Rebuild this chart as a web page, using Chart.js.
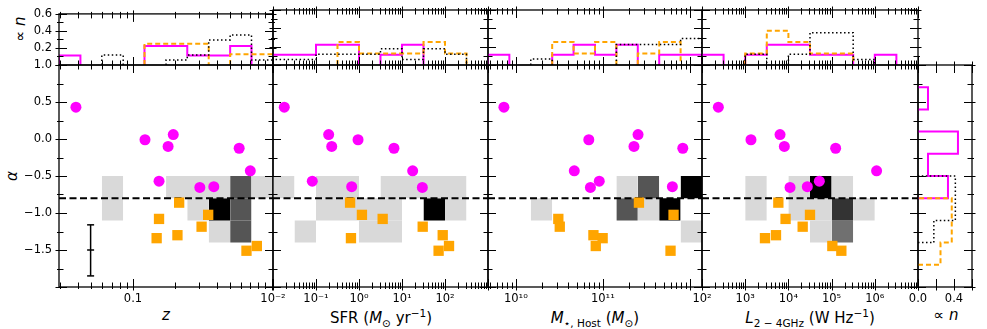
<!DOCTYPE html>
<html>
<head>
<meta charset="utf-8">
<title>spectral index vs host properties</title>
<script src="https://cdn.jsdelivr.net/npm/chart.js"></script>
<style>
  html,body{margin:0;padding:0;background:#fff;}
  #fig{position:relative;width:987px;height:329px;overflow:hidden;font-family:"DejaVu Sans",sans-serif;color:#000;}
  #fig canvas{position:absolute;left:0;top:0;}
  .lab{position:absolute;white-space:nowrap;font-size:15px;line-height:1;transform:translate(-50%,-50%);}
  .rot{transform:translate(-50%,-50%) rotate(-90deg);}
  sub,sup{font-size:70%;line-height:0;}
</style>
</head>
<body>
<div id="fig">
  <div class="lab rot" style="left:20px;top:29px">∝ <i>n</i></div>
  <div class="lab rot" style="left:12px;top:176px"><i>α</i></div>
  <div class="lab" style="left:166px;top:315px"><i>z</i></div>
  <div class="lab" style="left:381px;top:318px">SFR (<i>M</i><sub>⊙</sub> yr<sup>−1</sup>)</div>
  <div class="lab" style="left:595px;top:318px"><i>M</i><sub>⋆, Host</sub> (<i>M</i><sub>⊙</sub>)</div>
  <div class="lab" style="left:810px;top:318px"><i>L</i><sub>2 − 4GHz</sub> (W Hz<sup>−1</sup>)</div>
  <div class="lab" style="left:946px;top:315px">∝ <i>n</i></div>
</div>
<script>
"use strict";
// ---- bin edges (histograms + grey grid) ----
const alphaEdges=[-2.0,-1.7,-1.4,-1.1,-0.8,-0.5,-0.2,0.1,0.4,0.7,1.0];
const zEdges=[0.0293,0.0418,0.0596,0.085,0.121,0.173,0.246,0.351,0.501,0.714,1.02];
const sfrEdges=[0.01,0.0316,0.1,0.316,1,3.16,10,31.6,100,316,1000];
const massEdges=[4.79e9,8.43e9,1.486e10,2.618e10,4.613e10,8.128e10,1.432e11,2.523e11,4.446e11,7.834e11,1.38e12];
const lumEdges=[1e2,3.16e2,1e3,3.16e3,1e4,3.16e4,1e5,3.16e5,1e6,3.16e6,1e7];
const alphaCut=-0.8;

// ---- magenta sources (circles) ----
const magAlpha=[0.43,0.06,-0.10,-0.01,-0.125,-0.43,-0.57,-0.645,-0.655];
const magZ=[0.0388,0.195,0.179,0.122,0.582,0.70,0.154,0.382,0.303];
const magSFR=[0.0183,0.197,0.232,0.95,6.5,17.7,0.082,0.676,29.7];
const magMass=[7.3e9,2.54e11,2.28e11,6.9e10,8.3e11,4.7e10,9.1e10,6.3e11,7.2e10];
const magLum=[239,6.4e3,8.05e3,1.36e3,1.24e5,1.1e6,5.2e4,2.74e4,1.09e4];

// ---- orange sources (squares) ----
const orgAlpha=[-0.86,-1.025,-1.08,-1.185,-1.30,-1.34,-1.446,-1.51];
const orgZ=[0.215,0.348,0.154,0.312,0.209,0.148,0.78,0.657];
const orgSFR=[0.62,1.17,3.55,30.3,88.5,0.65,124,71];
const orgMass=[2.6e11,6.5e11,3.08e10,3.2e10,7.8e10,9.95e10,8.3e10,6.0e11];
const orgLum=[5.85e3,3.16e4,8.6e3,2.14e4,5.16e3,2.87e3,1.04e5,1.68e5];

// ---- grey grid levels, rows: [-0.8,-0.5], [-1.1,-0.8], [-1.4,-1.1] ----
const gridZ=[[0,0,1,0,0,1,1,1,3,1],[0,0,1,0,0,0,1,5,3,0],[0,0,0,0,0,0,0,1,3,0]];
const gridSFR=[[1,0,1,1,0,1,1,1,1,0],[0,0,1,1,1,1,0,5,1,0],[0,1,0,0,1,1,0,0,0,0]];
const gridMass=[[0,0,0,0,0,0,1,3,0,5],[0,0,1,0,0,0,3,1,5,0],[0,0,0,0,0,0,0,0,0,1]];
const gridLum=[[0,0,1,0,1,5,1,0,0,0],[0,0,1,0,1,1,4,1,0,0],[0,0,0,0,0,1,2,0,0,0]];

// ---- top histograms (fraction per bin) ----
const histMagZ=[0.111,0,0,0,0.222,0.222,0.111,0.111,0.222,0];
const histOrgZ=[0,0,0,0,0.25,0.25,0.25,0,0.125,0.125];
const histGreyZ=[0,0,0.118,0,0,0.059,0.118,0.294,0.353,0.059];
const histMagSFR=[0.111,0.111,0.222,0.222,0,0.111,0.222,0,0,0];
const histOrgSFR=[0,0,0,0.25,0.125,0.125,0.125,0.25,0.125,0];
const histGreySFR=[0.059,0.059,0.118,0.118,0.118,0.176,0.059,0.176,0.118,0];
const histMagMass=[0.111,0,0,0.111,0.222,0.111,0.222,0,0.111,0.111];
const histOrgMass=[0,0,0,0.25,0.125,0.25,0,0.125,0.25,0];
const histGreyMass=[0,0,0.065,0,0,0,0.225,0.225,0.225,0.29];
const histMagLum=[0.111,0,0.111,0.222,0.222,0.111,0.111,0,0.111,0];
const histOrgLum=[0,0,0.125,0.375,0.25,0.125,0.125,0,0,0];
const histGreyLum=[0,0,0.118,0,0.118,0.353,0.353,0.059,0,0];

// ---- right histogram over alpha bins (bottom to top) ----
const histMagAlpha=[0,0,0,0,0.333,0.111,0.444,0,0.111,0];
const histOrgAlpha=[0,0.25,0.375,0.375,0,0,0,0,0,0];
const histGreyAlpha=[0,0,0.176,0.415,0.415,0,0,0,0,0];

// ---- tick labels ----
const zTicks=[0.1], zTickLabels=['0.1'];
const sfrTicks=[0.01,0.1,1,10,100], sfrTickLabels=['10⁻²','10⁻¹','10⁰','10¹','10²'];
const massTicks=[1e10,1e11], massTickLabels=['10¹⁰','10¹¹'];
const lumTicks=[1e2,1e3,1e4,1e5,1e6], lumTickLabels=['10²','10³','10⁴','10⁵','10⁶'];
const alphaTicks=[1.0,0.5,0,-0.5,-1.0,-1.5], alphaTickLabels=['1.0','0.5','0.0','−0.5','−1.0','−1.5'];
const fracTicks=[0.2,0.4,0.6], fracTickLabels=['0.2','0.4','0.6'];
const nTicks=[0,0.4], nTickLabels=['0.0','0.4'];

// ---- layout ----
const W=987,H=329;
const colX=[[59,273],[273,488],[488,702],[702,918]];
const topY=[10,65], mainY=[65,287], rightX=[918,972];
const MAG='#ff00ff', ORG='#ffa500';
const shade={1:'#d9d9d9',2:'#707070',3:'#555555',4:'#333333',5:'#000000'};

Chart.defaults.font.family='DejaVu Sans';
Chart.defaults.font.size=11.5;
Chart.defaults.color='#000';

const frameTicks={
  id:'frameTicks',
  afterDraw(chart,args,o){
    const {ctx,chartArea:a}=chart;
    const xs=chart.scales.x, ys=chart.scales.y;
    ctx.save();
    ctx.strokeStyle='#000';
    ctx.lineWidth=1;
    ctx.beginPath();
    const xt=(list,inn,out)=>list.forEach(v=>{
      const p=Math.round(xs.getPixelForValue(v))+0.5;
      if(p<a.left-1||p>a.right+1)return;
      ctx.moveTo(p,a.bottom+out);ctx.lineTo(p,a.bottom-inn);
      ctx.moveTo(p,a.top-out);ctx.lineTo(p,a.top+inn);
    });
    const yt=(list,inn,out)=>list.forEach(v=>{
      const p=Math.round(ys.getPixelForValue(v))+0.5;
      if(p<a.top-1||p>a.bottom+1)return;
      ctx.moveTo(a.left-out,p);ctx.lineTo(a.left+inn,p);
      ctx.moveTo(a.right+out,p);ctx.lineTo(a.right-inn,p);
    });
    xt(o.xMajor||[],8,3.5); xt(o.xMinor||[],4.5,2);
    yt(o.yMajor||[],8,3.5); yt(o.yMinor||[],4.5,2);
    ctx.stroke();
    ctx.lineWidth=1.3;
    ctx.strokeRect(a.left,a.top,a.right-a.left,a.bottom-a.top);
    ctx.restore();
  }
};

function logTicks(min,max){
  const major=[],minor=[];
  for(let d=Math.floor(Math.log10(min));d<=Math.ceil(Math.log10(max));d++){
    for(let m=1;m<10;m++){
      const v=m*Math.pow(10,d);
      if(v<min*0.999||v>max*1.001)continue;
      (m===1?major:minor).push(v);
    }
  }
  return {major,minor};
}
function linTicks(min,max,step){
  const out=[];
  for(let v=min;v<=max+1e-9;v+=step)out.push(Math.round(v*1000)/1000);
  return out;
}

function axis(type,min,max,pos,ticks,labels){
  const show=!!labels;
  return {
    type,min,max,position:pos,bounds:'data',
    grid:{display:false,drawTicks:false},
    border:{display:false},
    ticks:{
      display:show,autoSkip:false,maxRotation:0,minRotation:0,
      padding:pos==='left'?7:5,color:'#000',
      callback:(v)=>{
        if(!show)return '';
        const i=ticks.findIndex(t=>Math.abs(t-v)<=1e-6*Math.max(1,Math.abs(t)));
        return i<0?'':labels[i];
      }
    },
    afterBuildTicks:(sc)=>{sc.ticks=(ticks||[]).map(v=>({value:v}));}
  };
}

function makeChart(rect,xOpt,yOpt,datasets,deco){
  const cv=document.createElement('canvas');
  cv.width=W;cv.height=H;
  document.getElementById('fig').appendChild(cv);
  // the axis boxes take the whole space left of / below the panel, so labels are not clipped
  xOpt.afterFit=(sc)=>{sc.height=H-rect[3];};
  yOpt.afterFit=(sc)=>{sc.width=rect[0];};
  return new Chart(cv,{
    type:'line',
    data:{datasets},
    options:{
      responsive:false,animation:false,events:[],
      layout:{autoPadding:false,padding:{left:0,top:rect[1],right:W-rect[2],bottom:0}},
      plugins:{legend:{display:false},tooltip:{enabled:false},frameTicks:deco},
      scales:{x:xOpt,y:yOpt}
    },
    plugins:[frameTicks]
  });
}

// step outline of a histogram; horizontal=true puts the bins along y
function stepOutline(edges,vals,horizontal){
  const pts=[];
  const P=(a,b)=>horizontal?{x:b,y:a}:{x:a,y:b};
  for(let i=0;i<vals.length;i++){
    const v=vals[i];
    if(!v)continue;
    const prev=i>0?vals[i-1]:0, next=i<vals.length-1?vals[i+1]:0;
    if(!prev)pts.push(P(edges[i],0));
    pts.push(P(edges[i],v),P(edges[i+1],v));
    if(!next){pts.push(P(edges[i+1],0));pts.push({x:null,y:null});}
  }
  return pts;
}
function histSets(edges,mag,org,grey,horizontal){
  const base={type:'line',pointRadius:0,fill:false,spanGaps:false,tension:0};
  return [
    Object.assign({},base,{data:stepOutline(edges,org,horizontal),borderColor:ORG,borderWidth:2,borderDash:[5,3],order:1}),
    Object.assign({},base,{data:stepOutline(edges,mag,horizontal),borderColor:MAG,borderWidth:2,order:2}),
    Object.assign({},base,{data:stepOutline(edges,grey,horizontal),borderColor:'#000',borderWidth:1.5,borderDash:[1.5,2.5],order:0})
  ];
}
function cellSets(edges,grid){
  const out=[];
  grid.forEach((row,r)=>{
    const lo=alphaEdges[4-r], hi=alphaEdges[5-r];
    let i=0;
    while(i<row.length){
      const lvl=row[i];
      let j=i;
      while(j+1<row.length&&row[j+1]===lvl)j++;
      if(lvl){
        out.push({type:'line',data:[{x:edges[i],y:hi},{x:edges[j+1],y:hi}],
          fill:{value:lo},backgroundColor:shade[lvl],borderColor:'rgba(0,0,0,0)',
          borderWidth:0,pointRadius:0,order:5});
      }
      i=j+1;
    }
  });
  return out;
}

const panels=[
  {edges:zEdges,grid:gridZ,mx:magZ,ox:orgZ,hm:histMagZ,ho:histOrgZ,hg:histGreyZ,ticks:zTicks,labels:zTickLabels},
  {edges:sfrEdges,grid:gridSFR,mx:magSFR,ox:orgSFR,hm:histMagSFR,ho:histOrgSFR,hg:histGreySFR,ticks:sfrTicks,labels:sfrTickLabels},
  {edges:massEdges,grid:gridMass,mx:magMass,ox:orgMass,hm:histMagMass,ho:histOrgMass,hg:histGreyMass,ticks:massTicks,labels:massTickLabels},
  {edges:lumEdges,grid:gridLum,mx:magLum,ox:orgLum,hm:histMagLum,ho:histOrgLum,hg:histGreyLum,ticks:lumTicks,labels:lumTickLabels}
];

const alphaMajor=linTicks(-2,1,0.5), alphaMinor=linTicks(-1.75,0.75,0.5);

panels.forEach((p,k)=>{
  const xmin=p.edges[0], xmax=p.edges[p.edges.length-1];
  const lt=logTicks(xmin,xmax);
  const rectTop=[colX[k][0],topY[0],colX[k][1],topY[1]];
  const rectMain=[colX[k][0],mainY[0],colX[k][1],mainY[1]];

  // top histogram
  makeChart(rectTop,
    axis('logarithmic',xmin,xmax,'bottom',[],null),
    axis('linear',0,0.6,'left',fracTicks,k===0?fracTickLabels:null),
    histSets(p.edges,p.hm,p.ho,p.hg,false),
    {xMajor:lt.major,xMinor:lt.minor,yMajor:[0,0.2,0.4,0.6],yMinor:[0.1,0.3,0.5]});

  // main scatter panel
  const sets=[
    {type:'line',showLine:false,data:p.mx.map((x,i)=>({x,y:magAlpha[i]})),pointStyle:'circle',
      pointRadius:5.5,pointBackgroundColor:MAG,pointBorderWidth:0,order:0},
    {type:'line',showLine:false,data:p.ox.map((x,i)=>({x,y:orgAlpha[i]})),pointStyle:'rect',
      pointRadius:7.3,pointBackgroundColor:ORG,pointBorderWidth:0,order:1},
    {type:'line',data:[{x:xmin,y:alphaCut},{x:xmax,y:alphaCut}],borderColor:'#000',borderWidth:2,
      borderDash:[7,3.5],pointRadius:0,fill:false,order:3}
  ].concat(cellSets(p.edges,p.grid));
  if(k===0){
    // representative error bar
    const errX=0.0495, errY=-1.5, errLo=-1.85, errHi=-1.16;
    sets.push({type:'line',data:[{x:errX,y:errLo},{x:errX,y:errHi}],borderColor:'#000',borderWidth:1.5,pointRadius:0,order:2});
    sets.push({type:'line',showLine:false,data:[{x:errX,y:errLo},{x:errX,y:errY},{x:errX,y:errHi}],
      pointStyle:'line',pointRadius:3.5,pointBorderColor:'#000',pointBorderWidth:1.5,order:2});
  }
  makeChart(rectMain,
    axis('logarithmic',xmin,xmax,'bottom',p.ticks,p.labels),
    axis('linear',-2,1,'left',alphaTicks,k===0?alphaTickLabels:null),
    sets,
    {xMajor:lt.major,xMinor:lt.minor,yMajor:alphaMajor,yMinor:alphaMinor});
});

// right histogram of alpha
makeChart([rightX[0],mainY[0],rightX[1],mainY[1]],
  axis('linear',0,0.6,'bottom',nTicks,nTickLabels),
  axis('linear',-2,1,'left',[],null),
  histSets(alphaEdges,histMagAlpha,histOrgAlpha,histGreyAlpha,true),
  {xMajor:[0,0.2,0.4,0.6],xMinor:[],yMajor:alphaMajor,yMinor:alphaMinor});
</script>
</body>
</html>
